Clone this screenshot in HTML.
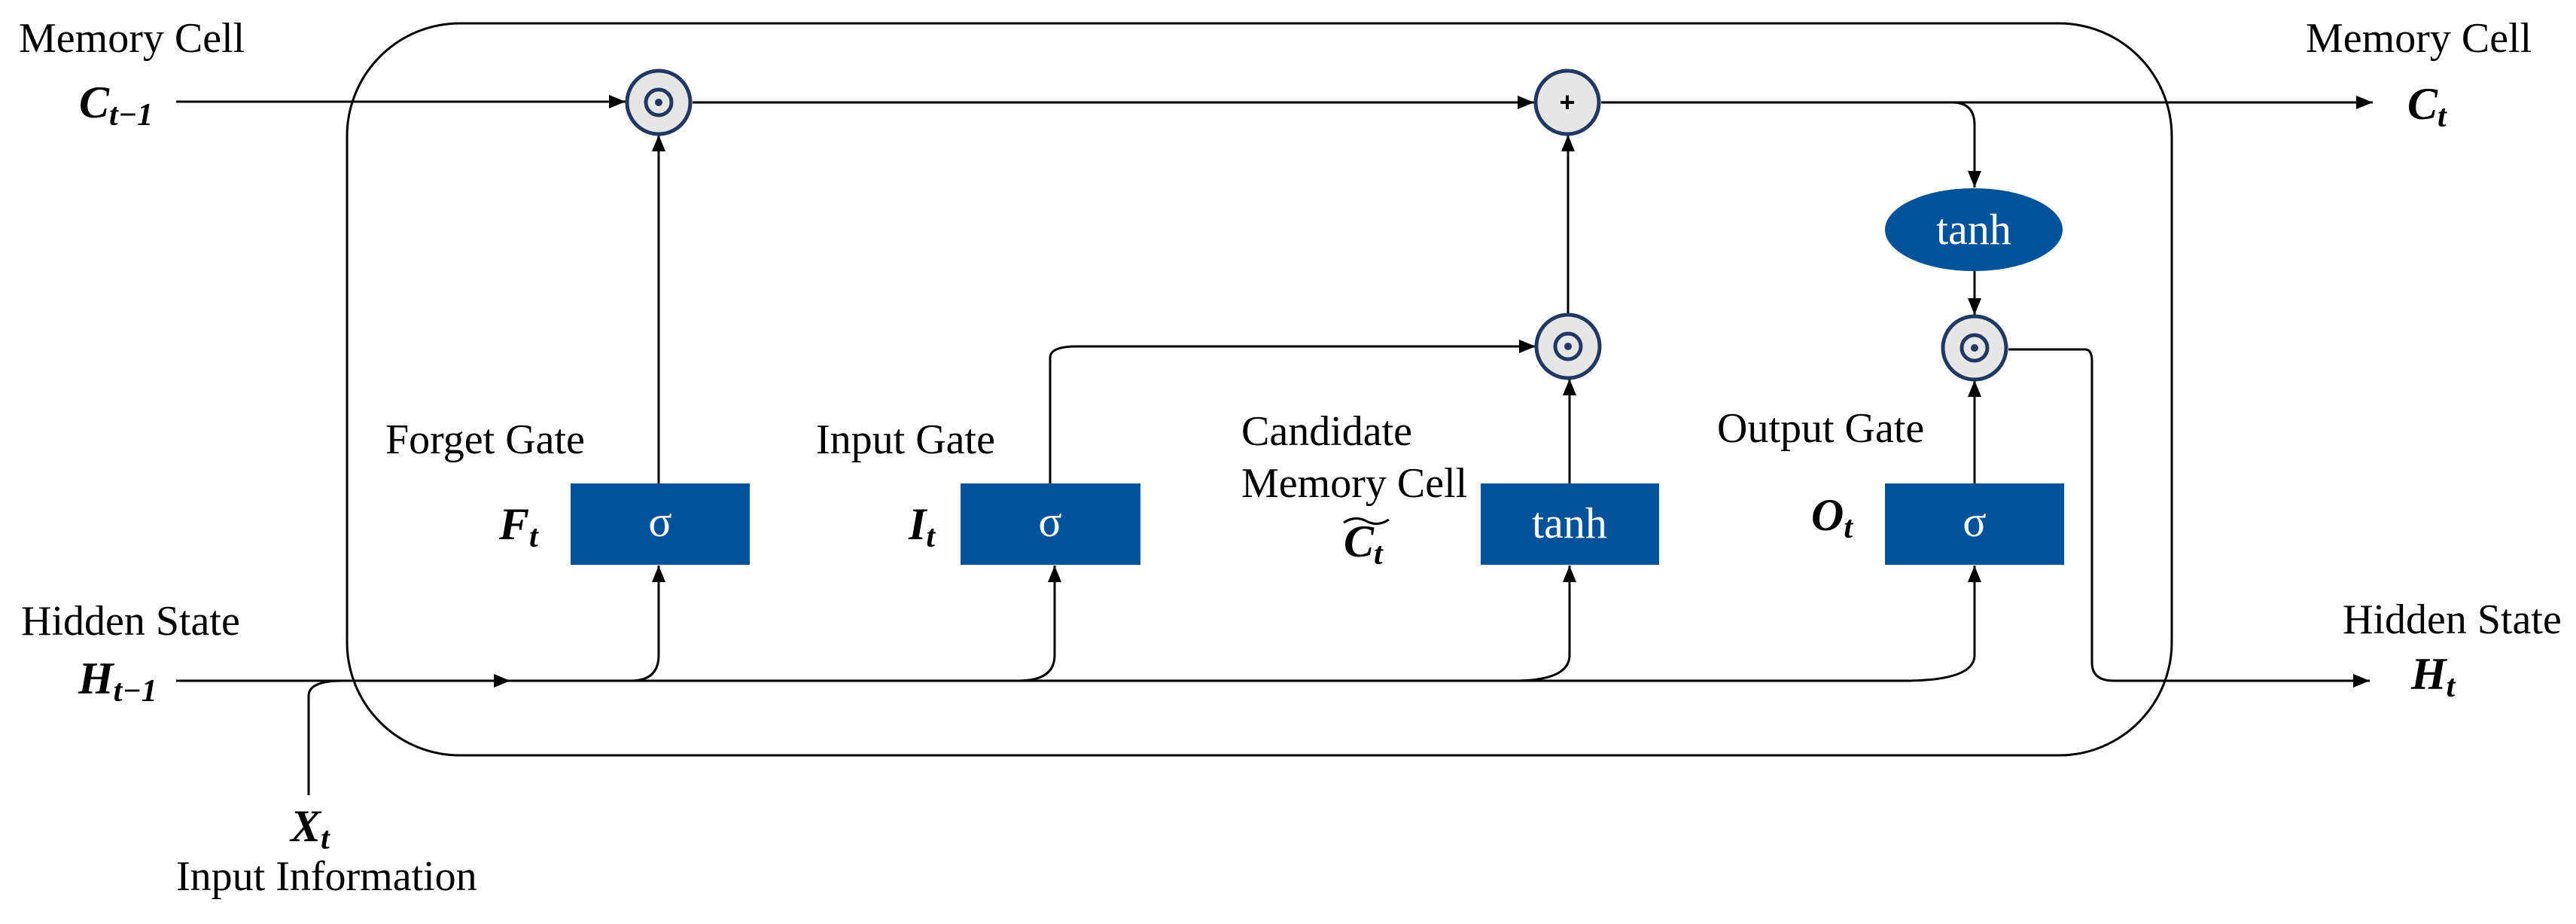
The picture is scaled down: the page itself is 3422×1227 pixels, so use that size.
<!DOCTYPE html>
<html><head><meta charset="utf-8"><style>
html,body{margin:0;padding:0;background:#fff;}
svg{display:block;}
text{font-family:"Liberation Serif",serif;}
.lbl{font-size:56px;fill:#000;}
.m{font-size:60px;font-weight:bold;font-style:italic;fill:#000;}
.s{font-size:42px;}
.w{fill:#fff;font-size:58px;}
</style></head><body>
<svg width="3422" height="1227" viewBox="0 0 3422 1227" xmlns="http://www.w3.org/2000/svg">
<defs>
<marker id="a" markerWidth="22" markerHeight="18" refX="10" refY="5" orient="auto" markerUnits="userSpaceOnUse" viewBox="0 0 10 10" preserveAspectRatio="none">
<path d="M0,0 L10,5 L0,10 z" fill="#000"/>
</marker>
</defs>
<g fill="none" stroke="#000" stroke-width="3">
<rect x="461" y="31" width="2424" height="972" rx="150" ry="150"/>
<path d="M234 135 H831" marker-end="url(#a)"/>
<path d="M920 136 H2038" marker-end="url(#a)"/>
<path d="M2127 136 H3152" marker-end="url(#a)"/>
<path d="M2593 136 Q2623 136 2623 166 V249" marker-end="url(#a)"/>
<path d="M2623 360 V418" marker-end="url(#a)"/>
<path d="M234 904 H678" marker-end="url(#a)"/>
<path d="M670 904 H2529"/>
<path d="M410 1056 V924 Q410 904 456 904"/>
<path d="M838 904 Q875 904 875 870 V751" marker-end="url(#a)"/>
<path d="M1353 904 Q1401 904 1401 870 V751" marker-end="url(#a)"/>
<path d="M2011 904 Q2085 904 2085 870 V751" marker-end="url(#a)"/>
<path d="M2529 904 Q2623 904 2623 870 V751" marker-end="url(#a)"/>
<path d="M875 642 V179" marker-end="url(#a)"/>
<path d="M1395 642 V475 Q1395 460 1430 460 H2040" marker-end="url(#a)"/>
<path d="M2085 642 V503" marker-end="url(#a)"/>
<path d="M2083 418 V179" marker-end="url(#a)"/>
<path d="M2623 642 V505" marker-end="url(#a)"/>
<path d="M2668 464 H2770 Q2779 464 2779 480 V880 Q2779 904 2808 904 H3148" marker-end="url(#a)"/>
</g>
<g fill="#00529b">
<rect x="758" y="642" width="238" height="108"/>
<rect x="1276" y="642" width="239" height="108"/>
<rect x="1967" y="642" width="237" height="108"/>
<rect x="2504" y="642" width="238" height="108"/>
<ellipse cx="2622" cy="305" rx="118" ry="55"/>
</g>
<g text-anchor="middle">
<text class="w" x="877" y="712">σ</text>
<text class="w" x="1395" y="712">σ</text>
<text class="w" x="2085" y="714">tanh</text>
<text class="w" x="2623" y="712">σ</text>
<text class="w" x="2622" y="324">tanh</text>
</g>
<g stroke="#1f3864" stroke-width="5" fill="#e6e6e6">
<circle cx="875" cy="136" r="42"/>
<circle cx="2082" cy="136" r="42"/>
<circle cx="2083" cy="460" r="42"/>
<circle cx="2623" cy="462" r="42"/>
</g>
<g stroke="#1f3864" stroke-width="5" fill="none">
<circle cx="875" cy="136" r="17"/>
<circle cx="2083" cy="460" r="17"/>
<circle cx="2623" cy="462" r="17"/>
</g>
<g fill="#1f3864">
<circle cx="875" cy="136" r="5"/>
<circle cx="2083" cy="460" r="5"/>
<circle cx="2623" cy="462" r="5"/>
</g>
<text x="2082" y="148" text-anchor="middle" style="font-size:36px;font-weight:bold;font-family:'Liberation Sans',sans-serif">+</text>
<text class="lbl" x="25" y="69">Memory Cell</text>
<text class="lbl" x="28" y="843">Hidden State</text>
<text class="lbl" x="3063" y="69">Memory Cell</text>
<text class="lbl" x="3112" y="841">Hidden State</text>
<text class="lbl" x="234" y="1182">Input Information</text>
<text class="lbl" x="512" y="602">Forget Gate</text>
<text class="lbl" x="1084" y="602">Input Gate</text>
<text class="lbl" x="1649" y="591">Candidate</text>
<text class="lbl" x="1649" y="660">Memory Cell</text>
<text class="lbl" x="2281" y="587">Output Gate</text>
<text class="m" x="105" y="156">C<tspan class="s" dy="10">t−1</tspan></text>
<text class="m" x="104" y="921">H<tspan class="s" dy="10">t−1</tspan></text>
<text class="m" x="386" y="1117">X<tspan class="s" dy="10">t</tspan></text>
<text class="m" x="663" y="716">F<tspan class="s" dy="10">t</tspan></text>
<text class="m" x="1207" y="716">I<tspan class="s" dy="10">t</tspan></text>
<text class="m" x="1785" y="739">C<tspan class="s" dy="10">t</tspan></text>
<path d="M1785 694 Q1800 684 1815 692 T1845 690" fill="none" stroke="#000" stroke-width="3"/>
<text class="m" x="2406" y="704">O<tspan class="s" dy="10">t</tspan></text>
<text class="m" x="3198" y="158">C<tspan class="s" dy="10">t</tspan></text>
<text class="m" x="3203" y="915">H<tspan class="s" dy="10">t</tspan></text>
</svg>
</body></html>
